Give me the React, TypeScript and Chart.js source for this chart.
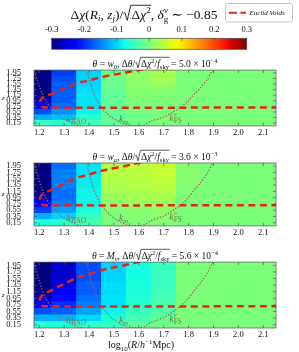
import React, { useEffect, useRef } from "react";
import { Chart, registerables } from "chart.js";

Chart.register(...registerables);

// ---------------- data ----------------
const R_CENTERS = [1.2, 1.3, 1.4, 1.5, 1.6, 1.7, 1.8, 1.9, 2.0, 2.1];
const Z_CENTERS = [0.15, 0.35, 0.55, 0.75, 0.95, 1.15, 1.35, 1.55, 1.75, 1.95];
const Z_HALF = 0.1;
const X_MIN = 1.179;
const X_MAX = 2.151;
const Y_MIN = 0.05;
const Y_MAX = 2.05;
const CB_MIN = -0.3;
const CB_MAX = 0.3;
const CB_TICKS = [-0.3, -0.2, -0.1, 0, 0.1, 0.2, 0.3];

// columns (R = 1.2 ... 2.1), each listing rows z = 0.15 ... 1.95
const W0_VALUES = [
  [-0.05, -0.12, -0.18, -0.22, -0.27, -0.3, -0.3, -0.3, -0.3, -0.3],
  [-0.06, -0.11, -0.14, -0.16, -0.17, -0.17, -0.17, -0.17, -0.18, -0.19],
  [-0.04, -0.06, -0.08, -0.09, -0.09, -0.09, -0.095, -0.1, -0.1, -0.1],
  [-0.02, -0.02, -0.02, -0.02, -0.02, -0.02, -0.015, -0.015, -0.01, -0.01],
  [-0.01, -0.01, -0.005, 0, 0, 0.005, 0.01, 0.015, 0.015, 0.015],
  [0, 0, 0, 0, 0, 0.005, 0.01, 0.02, 0.03, 0.03],
  [0, 0, 0, 0, 0, 0, 0, 0, 0, 0],
  [0, 0, 0, 0, 0, 0, 0, 0, 0, 0],
  [0, 0, 0, 0, 0, 0, 0, 0, 0, 0],
  [0, 0, 0, 0, 0, 0, 0, 0, 0, 0],
];
const WA_VALUES = [
  [-0.07, -0.12, -0.19, -0.23, -0.28, -0.3, -0.3, -0.3, -0.3, -0.3],
  [-0.06, -0.1, -0.13, -0.15, -0.16, -0.16, -0.15, -0.15, -0.15, -0.16],
  [-0.04, -0.05, -0.07, -0.08, -0.08, -0.08, -0.085, -0.085, -0.09, -0.09],
  [0, 0, 0.005, 0.01, 0.02, 0.03, 0.035, 0.04, 0.04, 0.04],
  [0, 0.005, 0.01, 0.02, 0.03, 0.035, 0.04, 0.045, 0.045, 0.045],
  [0.005, 0.01, 0.015, 0.02, 0.03, 0.04, 0.045, 0.05, 0.055, 0.055],
  [0, 0, 0, 0, 0, 0.005, 0.005, 0.01, 0.01, 0.01],
  [0, 0, 0, 0, 0, 0, 0, 0, 0, 0],
  [0, 0, 0, 0, 0, 0, 0, 0, 0, 0],
  [0, 0, 0, 0, 0, 0, 0, 0, 0, 0],
];
const MNU_VALUES = [
  [-0.06, -0.12, -0.18, -0.23, -0.26, -0.3, -0.3, -0.3, -0.3, -0.3],
  [-0.07, -0.12, -0.17, -0.2, -0.22, -0.24, -0.25, -0.26, -0.26, -0.26],
  [-0.06, -0.1, -0.13, -0.15, -0.16, -0.17, -0.17, -0.18, -0.18, -0.18],
  [-0.05, -0.07, -0.08, -0.09, -0.09, -0.095, -0.095, -0.1, -0.1, -0.1],
  [-0.02, -0.04, -0.05, -0.06, -0.065, -0.07, -0.07, -0.075, -0.075, -0.075],
  [-0.01, -0.02, -0.03, -0.035, -0.04, -0.045, -0.05, -0.05, -0.05, -0.05],
  [0, 0, 0, 0, 0, 0, 0, 0, 0, 0],
  [0, 0, 0, 0, 0, 0, 0, 0, 0, 0],
  [0, 0, 0, 0, 0, 0, 0, 0, 0, 0],
  [0, 0, 0, 0, 0, 0, 0, 0, 0, 0],
];

// Euclid voids boundary (dashed red)
const EUCLID_R = [2.16, 1.216, 1.206, 1.203, 1.212, 1.232, 1.251, 1.272, 1.304, 1.357, 1.392, 1.435, 1.488, 1.536, 1.58, 1.62];
const EUCLID_Z = [0.71, 0.71, 0.8, 0.92, 1.05, 1.14, 1.2, 1.29, 1.4, 1.6, 1.66, 1.77, 1.87, 1.94, 2.02, 2.09];

// k_BAO scale curve (dotted)
const BAO_R = [1.176, 1.185, 1.195, 1.21, 1.225, 1.245, 1.265, 1.285, 1.31, 1.335, 1.36, 1.38];
const BAO_Z = [2.12, 1.9, 1.6, 1.25, 0.97, 0.71, 0.52, 0.38, 0.25, 0.15, 0.07, 0.03];

// k_mnu / k_FS scale curve (dotted)
const KNU_R = [1.388, 1.405, 1.42, 1.435, 1.448, 1.47, 1.488, 1.51, 1.528, 1.55, 1.568, 1.6, 1.625, 1.648, 1.701, 1.741, 1.768, 1.795, 1.821, 1.848, 1.875, 1.895, 1.905];
const KNU_Z = [2.1, 1.6, 1.2, 0.92, 0.71, 0.52, 0.37, 0.25, 0.164, 0.1, 0.065, 0.045, 0.1, 0.215, 0.366, 0.567, 0.718, 0.916, 1.17, 1.42, 1.72, 2.02, 2.15];

// annotation anchors (data coordinates: left x, baseline z)
const K_LABEL_R = [1.31, 1.52, 1.722];
const K_LABEL_Z = [0.19, 0.19, 0.24];

// ---------------- helpers ----------------
const SERIF = '"Liberation Serif", "DejaVu Serif", serif';
Chart.defaults.font.family = SERIF;

function jetColor(v: number): string {
  let t = (v - CB_MIN) / (CB_MAX - CB_MIN);
  t = Math.max(0, Math.min(1, t));
  const seg = (pts: number[][]) => {
    for (let k = 1; k < pts.length; k++) {
      if (t <= pts[k][0]) {
        const [x0, y0] = pts[k - 1];
        const [x1, y1] = pts[k];
        return y0 + ((y1 - y0) * (t - x0)) / (x1 - x0);
      }
    }
    return pts[pts.length - 1][1];
  };
  const r = seg([[0, 0], [0.35, 0], [0.66, 1], [0.89, 1], [1, 0.5]]);
  const g = seg([[0, 0], [0.125, 0], [0.375, 1], [0.64, 1], [0.91, 0], [1, 0]]);
  const b = seg([[0, 0.5], [0.11, 1], [0.34, 1], [0.65, 0], [1, 0]]);
  return `rgb(${Math.round(r * 255)},${Math.round(g * 255)},${Math.round(b * 255)})`;
}

type Seg = { t?: string; sz?: number; it?: boolean; dy?: number; keep?: boolean; ov?: boolean; rad?: boolean };

function drawRich(
  ctx: CanvasRenderingContext2D,
  segs: Seg[],
  x0: number,
  baseline: number,
  base: number,
  color: string,
  align: "left" | "center" = "center"
) {
  const fontOf = (s: Seg) => `${s.it ? "italic " : ""}${s.sz ?? base}px ${SERIF}`;
  const adv = segs.map((s) => {
    if (s.rad) return base * 0.62;
    ctx.font = fontOf(s);
    const w = ctx.measureText(s.t || "").width;
    return s.keep ? 0 : w;
  });
  const total = adv.reduce((a, b) => a + b, 0);
  let x = align === "center" ? x0 - total / 2 : x0;
  ctx.save();
  ctx.fillStyle = color;
  ctx.strokeStyle = color;
  ctx.textBaseline = "alphabetic";
  ctx.textAlign = "left";
  segs.forEach((s, k) => {
    if (s.rad) {
      const h = base * 0.98;
      ctx.lineWidth = Math.max(0.7, base * 0.065);
      ctx.beginPath();
      ctx.moveTo(x + base * 0.02, baseline - h * 0.38);
      ctx.lineTo(x + base * 0.13, baseline - h * 0.45);
      ctx.lineTo(x + base * 0.3, baseline + base * 0.14);
      ctx.lineTo(x + base * 0.56, baseline - h);
      let e = x + adv[k];
      for (let m = k + 1; m < segs.length && segs[m].ov; m++) e += adv[m];
      ctx.lineTo(e + 0.5, baseline - h);
      ctx.stroke();
    } else {
      ctx.font = fontOf(s);
      ctx.fillText(s.t || "", x, baseline + (s.dy ?? 0));
    }
    x += adv[k];
  });
  ctx.restore();
}

const panelTitle = (param: Seg[], mant: string, exp: string): Seg[] => [
  { t: "θ", it: true },
  { t: " = " },
  ...param,
  { t: ", Δ" },
  { t: "θ", it: true },
  { t: "/" },
  { rad: true },
  { t: "Δ", ov: true },
  { t: "χ", it: true, ov: true },
  { t: "2", sz: 6.5, dy: -4, ov: true },
  { t: "/", ov: true },
  { t: "f", it: true, ov: true },
  { t: "sky", sz: 6.5, dy: 2, ov: true },
  { t: ` = ${mant} × 10` },
  { t: exp, sz: 6.5, dy: -4 },
];

const TITLE_W0 = panelTitle([{ t: "w", it: true }, { t: "0", sz: 6.5, dy: 2 }], "5.0", "−4");
const TITLE_WA = panelTitle([{ t: "w", it: true }, { t: "a", it: true, sz: 6.5, dy: 2 }], "3.6", "−3");
const TITLE_MNU = panelTitle([{ t: "M", it: true }, { t: "ν", it: true, sz: 6.5, dy: 2 }], "5.6", "−4");

const K_LABELS: Seg[][] = [
  [{ t: "k", it: true }, { t: "BAO", sz: 7.2, dy: 1.8 }],
  [{ t: "k", it: true }, { t: "m", it: true, sz: 7, dy: 1.8 }, { t: "ν", it: true, sz: 5, dy: 3.2 }],
  [{ t: "k", it: true }, { t: "ν", it: true, sz: 6.5, dy: -4.5, keep: true }, { t: "FS", sz: 7.2, dy: 2.2 }],
];

const X_TITLE: Seg[] = [
  { t: "log" },
  { t: "10", sz: 7, dy: 2.5 },
  { t: "(" },
  { t: "R", it: true },
  { t: "/" },
  { t: "h", it: true },
  { t: "−1", sz: 7, dy: -4 },
  { t: "Mpc)" },
];

const HEADER_TITLE: Seg[] = [
  { t: "Δ" },
  { t: "χ", it: true },
  { t: "(" },
  { t: "R", it: true },
  { t: "i", it: true, sz: 9, dy: 2.5 },
  { t: ", " },
  { t: "z", it: true },
  { t: "j", it: true, sz: 9, dy: 2.5 },
  { t: ")/" },
  { rad: true },
  { t: "Δ", ov: true },
  { t: "χ", it: true, ov: true },
  { t: "2", sz: 9, dy: -5.5, ov: true },
  { t: ", " },
  { t: "δ", it: true },
  { t: "v", sz: 9, dy: -5.5, keep: true },
  { t: "g", sz: 9, dy: 3 },
  { t: " ∼ −0.85" },
];

// ---------------- components ----------------
type PanelProps = {
  top: number;
  height: number;
  padTop: number;
  xAxisH: number;
  values: number[][];
  title: Seg[];
  showXTitle: boolean;
};

function Panel({ top, height, padTop, xAxisH, values, title, showXTitle }: PanelProps) {
  const ref = useRef<HTMLCanvasElement>(null);
  useEffect(() => {
    const canvas = ref.current!;
    const barSets: any[] = Z_CENTERS.map((z, j) => ({
      type: "bar",
      data: R_CENTERS.map((r) => ({ x: r, y: [z - Z_HALF, z + Z_HALF] })),
      backgroundColor: R_CENTERS.map((_, i) => jetColor(values[i][j])),
      borderWidth: 0,
      barPercentage: 1,
      categoryPercentage: 1,
      grouped: false,
      order: 5,
      clip: 0,
    }));
    const lineSets: any[] = [
      {
        type: "line",
        data: BAO_R.map((r, i) => ({ x: r, y: BAO_Z[i] })),
        borderColor: "rgba(165,95,90,0.95)",
        borderWidth: 1.4,
        borderDash: [1.3, 1.7],
        pointRadius: 0,
        tension: 0.3,
        fill: false,
        order: 2,
        clip: 0,
      },
      {
        type: "line",
        data: KNU_R.map((r, i) => ({ x: r, y: KNU_Z[i] })),
        borderColor: "rgba(165,95,90,0.95)",
        borderWidth: 1.4,
        borderDash: [1.3, 1.7],
        pointRadius: 0,
        tension: 0.3,
        fill: false,
        order: 2,
        clip: 0,
      },
      {
        type: "line",
        data: EUCLID_R.map((r, i) => ({ x: r, y: EUCLID_Z[i] })),
        borderColor: "#e8231c",
        borderWidth: 2.5,
        borderDash: [7, 4.5],
        borderCapStyle: "butt",
        pointRadius: 0,
        tension: 0.2,
        fill: false,
        order: 1,
        clip: 0,
      },
    ];
    const overlay = {
      id: "overlay",
      afterDatasetsDraw(chart: any) {
        const ctx: CanvasRenderingContext2D = chart.ctx;
        const { left, right, top: t, bottom } = chart.chartArea;
        const xs = chart.scales.x;
        const ys = chart.scales.y;
        ctx.save();
        ctx.strokeStyle = "rgba(90,90,90,0.9)";
        ctx.lineWidth = 0.8;
        ctx.strokeRect(left, t, right - left, bottom - t);
        ctx.beginPath();
        R_CENTERS.forEach((r) => {
          const px = xs.getPixelForValue(r);
          ctx.moveTo(px, bottom);
          ctx.lineTo(px, bottom - 3);
          ctx.moveTo(px, t);
          ctx.lineTo(px, t + 3);
        });
        Z_CENTERS.forEach((z) => {
          const py = ys.getPixelForValue(z);
          ctx.moveTo(left, py);
          ctx.lineTo(left + 3, py);
          ctx.moveTo(right, py);
          ctx.lineTo(right - 3, py);
        });
        ctx.stroke();
        ctx.restore();
        K_LABELS.forEach((segs, i) => {
          drawRich(
            ctx,
            segs,
            xs.getPixelForValue(K_LABEL_R[i]),
            ys.getPixelForValue(K_LABEL_Z[i]),
            10,
            "rgba(112,115,68,0.9)",
            "left"
          );
        });
      },
      afterDraw(chart: any) {
        const ctx: CanvasRenderingContext2D = chart.ctx;
        const { left, right, top: t, bottom } = chart.chartArea;
        drawRich(ctx, title, (left + right) / 2, t - 3.5, 9.5, "#111");
        ctx.save();
        ctx.font = `italic 7px ${SERIF}`;
        ctx.fillStyle = "#111";
        ctx.textAlign = "center";
        ctx.textBaseline = "middle";
        ctx.fillText("z", 3, (t + bottom) / 2);
        ctx.restore();
        if (showXTitle) {
          drawRich(ctx, X_TITLE, 141, bottom + 20, 10, "#111");
        }
      },
    };
    const chart = new Chart(canvas, {
      type: "bar",
      data: { datasets: [...barSets, ...lineSets] },
      options: {
        responsive: false,
        animation: false,
        devicePixelRatio: 1,
        events: [],
        layout: { padding: { top: padTop, right: 23, left: 0, bottom: 0 } },
        plugins: { legend: { display: false }, tooltip: { enabled: false }, title: { display: false } },
        scales: {
          x: {
            type: "linear",
            min: X_MIN,
            max: X_MAX,
            offset: false,
            grid: { display: false, drawTicks: false, offset: false },
            border: { display: false },
            afterBuildTicks: (a: any) => {
              a.ticks = R_CENTERS.map((v) => ({ value: v }));
            },
            afterFit: (a: any) => {
              a.height = xAxisH;
            },
            ticks: {
              autoSkip: false,
              maxRotation: 0,
              minRotation: 0,
              padding: 2,
              color: "#111",
              font: { family: SERIF, size: 8.5 },
              callback: (v: any) => Number(v).toFixed(1),
            },
          },
          y: {
            type: "linear",
            min: Y_MIN,
            max: Y_MAX,
            grid: { display: false, drawTicks: false },
            border: { display: false },
            afterBuildTicks: (a: any) => {
              a.ticks = Z_CENTERS.map((v) => ({ value: v }));
            },
            afterFit: (a: any) => {
              a.width = 34;
            },
            ticks: {
              autoSkip: false,
              padding: 13,
              color: "#111",
              font: { family: SERIF, size: 8.5 },
              callback: (v: any) => Number(v).toFixed(2),
            },
          },
        },
      } as any,
      plugins: [overlay],
    });
    return () => chart.destroy();
  }, []);
  return (
    <canvas
      ref={ref}
      width={299}
      height={height}
      style={{ position: "absolute", left: 0, top, width: 299, height }}
    />
  );
}

function Header() {
  const ref = useRef<HTMLCanvasElement>(null);
  useEffect(() => {
    const canvas = ref.current!;
    const cb = {
      id: "colorbar",
      beforeDatasetsDraw(chart: any) {
        const ctx: CanvasRenderingContext2D = chart.ctx;
        const { left, right, top, bottom } = chart.chartArea;
        const grad = ctx.createLinearGradient(left, 0, right, 0);
        for (let k = 0; k <= 40; k++) {
          const v = CB_MIN + ((CB_MAX - CB_MIN) * k) / 40;
          grad.addColorStop(k / 40, jetColor(v));
        }
        ctx.save();
        ctx.fillStyle = grad;
        ctx.fillRect(left, top, right - left, bottom - top);
        ctx.strokeStyle = "rgba(80,80,80,0.9)";
        ctx.lineWidth = 0.8;
        ctx.strokeRect(left, top, right - left, bottom - top);
        ctx.beginPath();
        const xs = chart.scales.x;
        CB_TICKS.forEach((v) => {
          const px = xs.getPixelForValue(v);
          ctx.moveTo(px, top);
          ctx.lineTo(px, top + 2.5);
        });
        ctx.strokeStyle = "rgba(40,40,40,0.7)";
        ctx.stroke();
        // tick labels placed through the colour scale
        ctx.fillStyle = "#111";
        ctx.font = `8.5px ${SERIF}`;
        ctx.textAlign = "center";
        ctx.textBaseline = "middle";
        CB_TICKS.forEach((v) => {
          const px = xs.getPixelForValue(v);
          ctx.fillText(Math.abs(v) < 1e-9 ? "0" : v.toFixed(1), px, 29.5);
        });
        ctx.restore();
      },
      afterDraw(chart: any) {
        const ctx: CanvasRenderingContext2D = chart.ctx;
        drawRich(ctx, HEADER_TITLE, 144, 18.5, 13.5, "#111");
        // legend
        ctx.save();
        ctx.fillStyle = "#fff";
        ctx.strokeStyle = "#b5b5b5";
        ctx.lineWidth = 0.8;
        ctx.beginPath();
        (ctx as any).roundRect(225.5, 3.5, 67, 18.5, 2);
        ctx.fill();
        ctx.stroke();
        ctx.strokeStyle = "#e8231c";
        ctx.lineWidth = 2;
        ctx.setLineDash([8, 3.4]);
        ctx.beginPath();
        ctx.moveTo(229, 12.7);
        ctx.lineTo(246, 12.7);
        ctx.stroke();
        ctx.setLineDash([]);
        ctx.fillStyle = "#111";
        ctx.font = `italic 7px ${SERIF}`;
        ctx.textBaseline = "middle";
        ctx.fillText("Euclid Voids", 249.5, 13);
        ctx.restore();
      },
    };
    const chart = new Chart(canvas, {
      type: "scatter",
      data: { datasets: [] },
      options: {
        responsive: false,
        animation: false,
        devicePixelRatio: 1,
        events: [],
        layout: { padding: { top: 28.3, left: 51.7, right: 52.3, bottom: 2.7 } },
        plugins: { legend: { display: false }, tooltip: { enabled: false } },
        scales: {
          x: {
            type: "linear",
            position: "top",
            min: CB_MIN,
            max: CB_MAX,
            grid: { display: false, drawTicks: false },
            border: { display: false },
            afterBuildTicks: (a: any) => {
              a.ticks = CB_TICKS.map((v) => ({ value: v }));
            },
            afterFit: (a: any) => {
              a.height = 10;
            },
            ticks: { display: false },
          },
          y: { display: false, min: 0, max: 1 },
        },
      } as any,
      plugins: [cb],
    });
    return () => chart.destroy();
  }, []);
  return (
    <canvas ref={ref} width={299} height={52} style={{ position: "absolute", left: 0, top: 0, width: 299, height: 52 }} />
  );
}

export default function App() {
  return (
    <div style={{ position: "absolute", left: 0, top: 0, width: 299, height: 352, background: "#fff", overflow: "hidden" }}>
      <Header />
      <Panel top={52} height={92} padTop={12} xAxisH={13.5} values={W0_VALUES} title={TITLE_W0} showXTitle={false} />
      <Panel top={144} height={100} padTop={19} xAxisH={14} values={WA_VALUES} title={TITLE_WA} showXTitle={false} />
      <Panel top={244} height={108} padTop={18} xAxisH={24} values={MNU_VALUES} title={TITLE_MNU} showXTitle={true} />
    </div>
  );
}
